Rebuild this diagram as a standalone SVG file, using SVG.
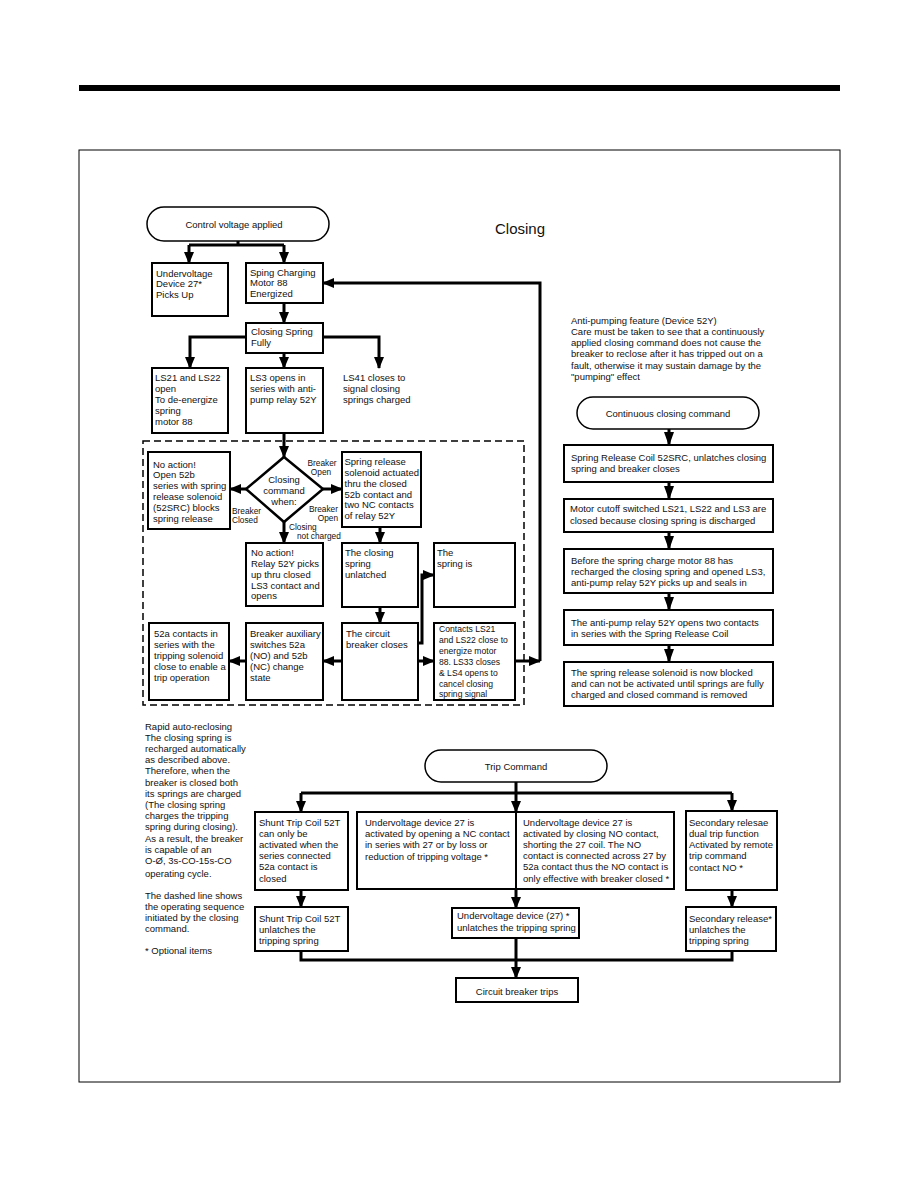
<svg xmlns="http://www.w3.org/2000/svg" width="918" height="1188" viewBox="0 0 918 1188">
<style>
.box{fill:#fff;stroke:#000;stroke-width:2}
.term{fill:#fff;stroke:#000;stroke-width:1.5}
.t{font-family:"Liberation Sans",Arial,sans-serif;font-size:9.5px;fill:#111}
.ts{font-family:"Liberation Sans",Arial,sans-serif;font-size:8.6px;fill:#111}
.lbl{font-family:"Liberation Sans",Arial,sans-serif;font-size:8.3px;fill:#111}
.c{stroke:#000;stroke-width:3;fill:none}
.ca{stroke:#000;stroke-width:3;fill:none;marker-end:url(#ah)}
.cb{stroke:#000;stroke-width:3;fill:none;marker-end:url(#ah2)}
</style>
<defs>
<marker id="ah" markerUnits="userSpaceOnUse" viewBox="0 0 12 10" markerWidth="12" markerHeight="10" refX="11" refY="5" orient="auto"><path d="M0,0 L12,5 L0,10 z" fill="#000"/></marker>
<marker id="ah2" markerUnits="userSpaceOnUse" viewBox="0 0 14 10" markerWidth="14" markerHeight="10" refX="13" refY="5" orient="auto"><path d="M0,0 L14,5 L0,10 z" fill="#000"/></marker>
</defs>
<rect width="918" height="1188" fill="#fff"/>
<rect x="79" y="85" width="761" height="6" fill="#000"/>
<rect x="79" y="150" width="761" height="932" fill="none" stroke="#000" stroke-width="1"/>
<text x="495" y="234" font-family="Liberation Sans,Arial,sans-serif" font-size="15" fill="#111">Closing</text>
<rect x="143" y="441" width="381" height="264" fill="none" stroke="#000" stroke-width="1.5" stroke-dasharray="7,4"/>

<g id="connectors">
<path class="c" d="M238,241 V245 M189,245 H284"/>
<path class="ca" d="M189,245 V263"/>
<path class="ca" d="M284,245 V263"/>
<path class="ca" d="M284,303 V323"/>
<path class="ca" d="M246,337 H190 V368"/>
<path class="ca" d="M323,337 H379 V368"/>
<path class="ca" d="M284,353 V368"/>
<path class="ca" d="M284,433 V457"/>
<path class="ca" d="M246,489 H230"/>
<path class="ca" d="M323,489 H342"/>
<path class="ca" d="M284,522 V543"/>
<path class="ca" d="M380,527 V543"/>
<path class="ca" d="M380,607 V623"/>
<path class="ca" d="M418,643 H422 V575 H434"/>
<path class="ca" d="M418,661 H434"/>
<path class="ca" d="M342,661 H323"/>
<path class="ca" d="M246,661 H229"/>
<path class="ca" d="M515,661 H540"/>
<path class="ca" d="M540,661 V283 H323"/>
<path class="cb" d="M669,429 V445"/>
<path class="cb" d="M669,482 V499"/>
<path class="cb" d="M669,532 V549"/>
<path class="cb" d="M669,593 V610"/>
<path class="cb" d="M669,645 V662"/>
<path class="c" d="M516,782 V793 M301,793 H732"/>
<path class="ca" d="M301,793 V812"/>
<path class="ca" d="M732,793 V811"/>
<path class="ca" d="M516,793 V812"/>
<path class="ca" d="M516,812 V908"/>
<path class="ca" d="M301,890 V907"/>
<path class="ca" d="M732,890 V907"/>
<path class="c" d="M301,951 V960 H732 V951 M516,938 V960"/>
<path class="ca" d="M516,960 V978"/>
</g>

<g id="n-control"><rect class="term" x="147" y="207" width="182" height="34" rx="17"/><text class="t" x="234" y="227.5" text-anchor="middle">Control voltage applied</text></g>
<g id="n-uv27"><rect class="box" x="152" y="263" width="76" height="53"/><text class="t"><tspan x="156" y="276.5">Undervoltage</tspan><tspan x="156" y="287">Device 27*</tspan><tspan x="156" y="298">Picks Up</tspan></text></g>
<g id="n-motor"><rect class="box" x="246" y="263" width="77" height="40"/><text class="t"><tspan x="250" y="275.5">Sping Charging</tspan><tspan x="250" y="286">Motor 88</tspan><tspan x="250" y="297">Energized</tspan></text></g>
<g id="n-fully"><rect class="box" x="246" y="323" width="77" height="30"/><text class="t"><tspan x="251" y="334.5">Closing Spring</tspan><tspan x="251" y="345.5">Fully</tspan></text></g>
<g id="n-ls21"><rect class="box" x="152" y="368" width="76" height="65"/><text class="t"><tspan x="155" y="380.5">LS21 and LS22</tspan><tspan x="155" y="391.5">open</tspan><tspan x="155" y="402.5">To de-energize</tspan><tspan x="155" y="413.5">spring</tspan><tspan x="155" y="424.5">motor 88</tspan></text></g>
<g id="n-ls3"><rect class="box" x="246" y="368" width="77" height="65"/><text class="t"><tspan x="250" y="380.5">LS3 opens in</tspan><tspan x="250" y="391.5">series with anti-</tspan><tspan x="250" y="402.5">pump relay 52Y</tspan></text></g>
<g id="n-ls41"><text class="t"><tspan x="343" y="380.5">LS41 closes to</tspan><tspan x="343" y="391.5">signal closing</tspan><tspan x="343" y="402.5">springs charged</tspan></text></g>

<g id="n-diamond"><polygon points="284,457 323,489 284,522 246,489" fill="#fff" stroke="#000" stroke-width="2.5"/><text class="t" text-anchor="middle"><tspan x="284" y="482.5">Closing</tspan><tspan x="284" y="493.5">command</tspan><tspan x="284" y="504.5">when:</tspan></text></g>
<g id="labels">
<text class="lbl" text-anchor="middle"><tspan x="322" y="466">Breaker</tspan><tspan x="321" y="475">Open</tspan></text>
<text class="lbl"><tspan x="232" y="514">Breaker</tspan><tspan x="232" y="523">Closed</tspan></text>
<text class="lbl" text-anchor="end"><tspan x="338" y="512">Breaker</tspan><tspan x="338" y="521">Open</tspan></text>
<text class="lbl"><tspan x="289" y="530">Closing</tspan><tspan x="297" y="538.5">not charged</tspan></text>
</g>
<g id="n-noaction1"><rect class="box" x="148" y="452" width="82" height="77"/><text class="t"><tspan x="153" y="467.5">No action!</tspan><tspan x="153" y="478">Open 52b</tspan><tspan x="153" y="489">series with spring</tspan><tspan x="153" y="500">release solenoid</tspan><tspan x="153" y="511">(52SRC) blocks</tspan><tspan x="153" y="521.5">spring release</tspan></text></g>
<g id="n-noaction2"><rect class="box" x="246" y="543" width="77" height="63"/><text class="t"><tspan x="251" y="555.5">No action!</tspan><tspan x="251" y="566.5">Relay 52Y picks</tspan><tspan x="251" y="577.5">up thru closed</tspan><tspan x="251" y="588.5">LS3 contact and</tspan><tspan x="251" y="599">opens</tspan></text></g>
<g id="n-springrel"><rect class="box" x="342" y="452" width="79" height="75"/><text class="t"><tspan x="344.5" y="464.5">Spring release</tspan><tspan x="344.5" y="475.5">solenoid actuated</tspan><tspan x="344.5" y="486.5">thru the closed</tspan><tspan x="344.5" y="497.5">52b contact and</tspan><tspan x="344.5" y="508">two NC contacts</tspan><tspan x="344.5" y="519">of relay 52Y</tspan></text></g>
<g id="n-unlatched"><rect class="box" x="342" y="543" width="76" height="64"/><text class="t"><tspan x="345" y="555.5">The closing</tspan><tspan x="345" y="566.5">spring</tspan><tspan x="345" y="577.5">unlatched</tspan></text></g>
<g id="n-springis"><rect class="box" x="434" y="543" width="81" height="64"/><text class="t"><tspan x="437" y="555.5">The</tspan><tspan x="437" y="566.5">spring is</tspan></text></g>
<g id="n-cbcloses"><rect class="box" x="342" y="623" width="76" height="77"/><text class="t"><tspan x="346" y="636.5">The circuit</tspan><tspan x="346" y="647.5">breaker closes</tspan></text></g>
<g id="n-contacts"><rect class="box" x="434" y="623" width="81" height="77"/><text class="ts"><tspan x="439" y="632">Contacts LS21</tspan><tspan x="439" y="643">and LS22 close to</tspan><tspan x="439" y="654">energize motor</tspan><tspan x="439" y="664.5">88.  LS33 closes</tspan><tspan x="439" y="675.5">&amp; LS4 opens to</tspan><tspan x="439" y="686.5">cancel closing</tspan><tspan x="439" y="697">spring signal</tspan></text></g>
<g id="n-52a"><rect class="box" x="149" y="623" width="80" height="77"/><text class="t"><tspan x="154" y="636.5">52a contacts in</tspan><tspan x="154" y="647.5">series with the</tspan><tspan x="154" y="658.5">tripping solenoid</tspan><tspan x="154" y="669.5">close to enable a</tspan><tspan x="154" y="680.5">trip operation</tspan></text></g>
<g id="n-aux"><rect class="box" x="246" y="623" width="77" height="77"/><text class="t"><tspan x="250" y="636.5">Breaker auxiliary</tspan><tspan x="250" y="647.5">switches 52a</tspan><tspan x="250" y="658.5">(NO) and 52b</tspan><tspan x="250" y="669.5">(NC) change</tspan><tspan x="250" y="680.5">state</tspan></text></g>

<g id="n-antipump-note"><text class="t"><tspan x="571" y="323.5">Anti-pumping feature (Device 52Y)</tspan><tspan x="571" y="334.8">Care must be taken to see that a continuously</tspan><tspan x="571" y="346.1">applied closing command does not cause the</tspan><tspan x="571" y="357.4">breaker to reclose after it has tripped out on a</tspan><tspan x="571" y="368.7">fault, otherwise it may sustain damage by the</tspan><tspan x="571" y="380">"pumping" effect</tspan></text></g>
<g id="n-continuous"><rect class="term" x="577" y="397" width="182" height="32" rx="16"/><text class="t" x="668" y="416.5" text-anchor="middle">Continuous closing command</text></g>
<g id="n-r1"><rect class="box" x="564" y="445" width="209" height="37"/><text class="t"><tspan x="571" y="460.5">Spring Release Coil 52SRC, unlatches closing</tspan><tspan x="571" y="472">spring and breaker closes</tspan></text></g>
<g id="n-r2"><rect class="box" x="564" y="499" width="209" height="33"/><text class="t"><tspan x="570" y="511.5">Motor cutoff switched LS21, LS22 and LS3 are</tspan><tspan x="570" y="523.5">closed because closing spring is discharged</tspan></text></g>
<g id="n-r3"><rect class="box" x="564" y="549" width="209" height="44"/><text class="t"><tspan x="571" y="563.5">Before the spring charge motor 88 has</tspan><tspan x="571" y="574.5">recharged the closing spring and opened LS3,</tspan><tspan x="571" y="585.5">anti-pump relay 52Y picks up and seals in</tspan></text></g>
<g id="n-r4"><rect class="box" x="564" y="610" width="209" height="35"/><text class="t"><tspan x="571" y="625.5">The anti-pump relay 52Y opens two contacts</tspan><tspan x="571" y="636.5">in series with the Spring Release Coil</tspan></text></g>
<g id="n-r5"><rect class="box" x="564" y="662" width="209" height="44"/><text class="t"><tspan x="571" y="675.5">The spring release solenoid is now blocked</tspan><tspan x="571" y="686.5">and can not be activated until springs are fully</tspan><tspan x="571" y="697.5">charged and closed command is removed</tspan></text></g>

<g id="n-autoreclose-note"><text class="t"><tspan x="145" y="729.5">Rapid auto-reclosing</tspan><tspan x="145" y="740.7">The closing spring is</tspan><tspan x="145" y="751.9">recharged automatically</tspan><tspan x="145" y="763.1">as described above.</tspan><tspan x="145" y="774.3">Therefore, when the</tspan><tspan x="145" y="785.5">breaker is closed both</tspan><tspan x="145" y="796.7">its springs are charged</tspan><tspan x="145" y="807.9">(The closing spring</tspan><tspan x="145" y="819.1">charges the tripping</tspan><tspan x="145" y="830.3">spring during closing).</tspan><tspan x="145" y="841.5">As a result, the breaker</tspan><tspan x="145" y="852.7">is capable of an</tspan><tspan x="145" y="863.9">O-Ø, 3s-CO-15s-CO</tspan><tspan x="145" y="876.5">operating cycle.</tspan><tspan x="145" y="898.5">The dashed line shows</tspan><tspan x="145" y="909.7">the operating sequence</tspan><tspan x="145" y="920.9">initiated by the closing</tspan><tspan x="145" y="932.1">command.</tspan><tspan x="145" y="954.3">* Optional items</tspan></text></g>

<g id="n-trip"><rect class="term" x="425" y="750" width="182" height="32" rx="16"/><text class="t" x="516" y="769.5" text-anchor="middle">Trip Command</text></g>
<g id="n-shunt1"><rect class="box" x="255" y="812" width="93" height="78"/><text class="t"><tspan x="259" y="825.5">Shunt Trip Coil 52T</tspan><tspan x="259" y="837">can only be</tspan><tspan x="259" y="848">activated when the</tspan><tspan x="259" y="859">series connected</tspan><tspan x="259" y="870">52a contact is</tspan><tspan x="259" y="881.5">closed</tspan></text></g>
<g id="n-shunt2"><rect class="box" x="255" y="907" width="93" height="44"/><text class="t"><tspan x="259" y="921.5">Shunt Trip Coil 52T</tspan><tspan x="259" y="932.5">unlatches the</tspan><tspan x="259" y="943.5">tripping spring</tspan></text></g>
<g id="n-uvleft"><rect class="box" x="357" y="812" width="159" height="77"/><text class="t"><tspan x="365" y="825.5">Undervoltage device 27 is</tspan><tspan x="365" y="837">activated by opening a NC contact</tspan><tspan x="365" y="848">in series with 27 or by loss or</tspan><tspan x="365" y="859.5">reduction of tripping voltage *</tspan></text></g>
<g id="n-uvright"><rect class="box" x="516" y="812" width="158" height="77"/><text class="t"><tspan x="523" y="825.5">Undervoltage device 27 is</tspan><tspan x="523" y="837">activated by closing NO contact,</tspan><tspan x="523" y="848">shorting the 27 coil.  The NO</tspan><tspan x="523" y="859">contact is connected across 27 by</tspan><tspan x="523" y="870">52a contact thus the NO contact is</tspan><tspan x="523" y="881.5">only effective with breaker closed *</tspan></text></g>
<g id="n-uv27trip"><rect class="box" x="452" y="908" width="127" height="30"/><text class="t"><tspan x="457" y="918.5">Undervoltage device (27) *</tspan><tspan x="457" y="930.5">unlatches the tripping spring</tspan></text></g>
<g id="n-sec1"><rect class="box" x="686" y="811" width="91" height="79"/><text class="t"><tspan x="689" y="825.5">Secondary relesae</tspan><tspan x="689" y="836.5">dual trip function</tspan><tspan x="689" y="848">Activated by remote</tspan><tspan x="689" y="859">trip command</tspan><tspan x="689" y="870.5">contact NO *</tspan></text></g>
<g id="n-sec2"><rect class="box" x="686" y="907" width="90" height="44"/><text class="t"><tspan x="689" y="921.5">Secondary release*</tspan><tspan x="689" y="932.5">unlatches the</tspan><tspan x="689" y="943.5">tripping spring</tspan></text></g>
<g id="n-cbtrips"><rect class="box" x="456" y="978" width="122" height="24"/><text class="t" x="517" y="994.5" text-anchor="middle">Circuit breaker trips</text></g>
</svg>
